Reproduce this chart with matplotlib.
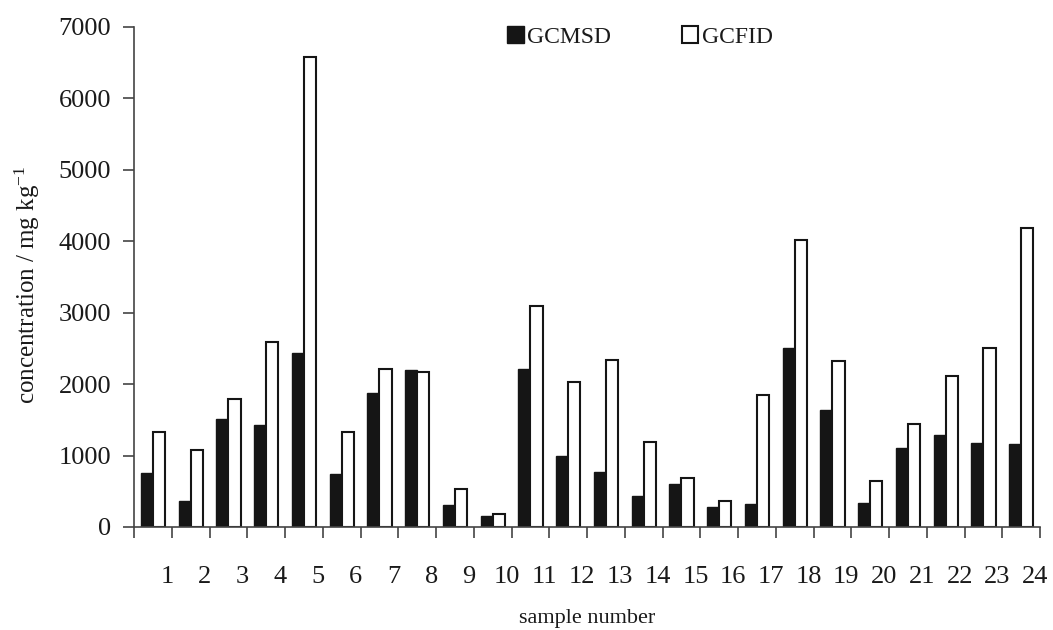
# coding: utf-8
import numpy as np
import matplotlib
matplotlib.use('Agg')
import matplotlib.pyplot as plt
from matplotlib.patches import Patch

# サンプル番号
samples = list(range(1, 25))

# GCMSD / GCFID の濃度 (mg/kg)
gcmsd = [750, 365, 1510, 1430, 2440, 745, 1880, 2200, 305, 150, 2210, 995,
         775, 435, 600, 275, 315, 2500, 1640, 335, 1110, 1290, 1180, 1155]
gcfid = [1325, 1080, 1795, 2585, 6575, 1335, 2210, 2170, 530, 175, 3095, 2025,
         2335, 1190, 680, 360, 1845, 4020, 2320, 650, 1440, 2110, 2500, 4180]

yticks = [0, 1000, 2000, 3000, 4000, 5000, 6000, 7000]

plt.rcParams['font.family'] = ['Liberation Serif', 'DejaVu Serif']
plt.rcParams['mathtext.fontset'] = 'custom'
plt.rcParams['mathtext.rm'] = 'Liberation Serif'
plt.rcParams['mathtext.it'] = 'Liberation Serif:italic'

text_color = '#1a1a1a'
axis_color = '#444444'

fig = plt.figure(figsize=(10.53, 6.30), dpi=100)
ax = fig.add_axes([0.1273, 0.1635, 0.8604, 0.7941])

# 棒グラフ（カテゴリ中心の左右に並べる）
x = np.arange(len(samples)) + 0.5
w = 0.32
ax.bar(x - w / 2, gcmsd, width=w, color='#151515', edgecolor='#151515',
       linewidth=1.0)
ax.bar(x + w / 2, gcfid, width=w, color='white', edgecolor='#151515',
       linewidth=1.5)

# 軸範囲
ax.set_xlim(0, len(samples))
ax.set_ylim(0, 7000)

# 枠線
ax.spines['top'].set_visible(False)
ax.spines['right'].set_visible(False)
ax.spines['left'].set_color(axis_color)
ax.spines['bottom'].set_color(axis_color)
ax.spines['left'].set_linewidth(1.2)
ax.spines['bottom'].set_linewidth(1.2)

# y軸目盛り
ax.set_yticks(yticks)
ax.set_yticklabels([str(v) for v in yticks])
ax.tick_params(axis='y', direction='out', length=8, width=1.2,
               color=axis_color, labelsize=19, labelcolor=text_color, pad=8.5)

# x軸: 目盛り線はカテゴリ境界、ラベルは少し右寄せ
ax.set_xticks(np.arange(len(samples) + 1), minor=True)
ax.set_xticks(x + 0.37)
ax.set_xticklabels([str(s) for s in samples])
ax.tick_params(axis='x', which='minor', direction='out', length=8, width=1.2,
               color=axis_color)
ax.tick_params(axis='x', which='major', length=0, labelsize=19,
               labelcolor=text_color, pad=28)

# ラベル
ax.set_xlabel('sample number', fontsize=16, color=text_color)
ax.xaxis.set_label_coords(0.5, -0.163)
ax.set_ylabel('concentration / mg kg$^{-1}$', fontsize=18, color=text_color)
ax.yaxis.set_label_coords(-0.102, 0.485)

# 凡例
handles = [Patch(facecolor='#151515', edgecolor='#151515', label='GCMSD'),
           Patch(facecolor='white', edgecolor='#151515', linewidth=1.5,
                 label='GCFID')]
leg = fig.legend(handles=handles, loc='center left',
                 bbox_to_anchor=(507 / 1053, 1 - 37 / 630), ncol=2,
                 frameon=False, fontsize=17, handlelength=0.7,
                 handleheight=0.7, handletextpad=0.15, columnspacing=3.0,
                 borderpad=0, borderaxespad=0)
for t in leg.get_texts():
    t.set_color(text_color)

fig.savefig('out.png', dpi=100)
